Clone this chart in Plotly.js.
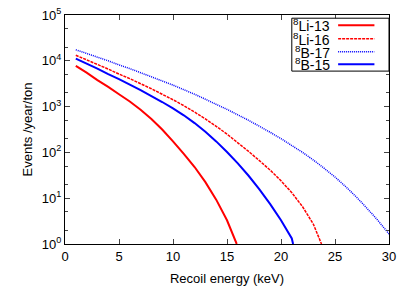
<!DOCTYPE html>
<html><head><meta charset="utf-8">
<script src="https://cdn.plot.ly/plotly-3.0.1.min.js"></script>
<style>body{margin:0;padding:0;background:#fff}#c{width:409px;height:286px}</style>
</head><body><div id="c"></div>
<script>
// Recoil energy (keV)
const li13_x = [1,2,3,4,5,6,7,8,9,10,11,12,13,14,15,15.9];
const li13_y = [7760,5500,3800,2690,1860,1290,851,537,316,174,93,48,22.4,9.3,3.3,1.0];
const li16_x = [1,2,3,4,5,6,7,8,9,10,11,12,13,14,15,16,17,18,19,20,21,22,23,23.75];
const li16_y = [13200,10500,8320,6610,5130,4070,3160,2450,1860,1410,1050,759,537,372,251,162,105,66,41,24,13.2,6.5,2.7,1.0];
const b17_x = [1,2,3,4,5,6,7,8,9,10,11,12,13,14,15,16,17,18,19,20,21,22,23,24,25,26,27,28,29,30];
const b17_y = [17400,14500,12000,10000,8130,6760,5500,4470,3630,2950,2340,1860,1450,1120,871,661,501,372,275,200,141,100,68,45,29,17.8,10.5,5.9,3.2,1.66];
const b15_x = [1,2,3,4,5,6,7,8,9,10,11,12,13,14,15,16,17,18,19,20,21,21.12];
const b15_y = [11200,8710,6760,5130,3980,3020,2290,1700,1260,912,646,437,282,174,102,57.5,30.9,15.5,7.4,3.3,1.32,1.0];
const names = ["<sup>8</sup>Li-13","<sup>8</sup>Li-16","<sup>8</sup>B-17","<sup>8</sup>B-15"];
const colors = ["#ff0000","#ff0000","#0000ff","#0000ff"];
const dashes = ["solid","3px,1px","1px,1px","solid"];
const widths = [2,1.5,1.5,2];
const xs = [li13_x,li16_x,b17_x,b15_x];
const ys = [li13_y,li16_y,b17_y,b15_y];
const xTicks = [0,5,10,15,20,25,30];
const yTicks = [1,10,100,1000,10000,100000];
const yTickText = ["10<sup>0</sup>","10<sup>1</sup>","10<sup>2</sup>","10<sup>3</sup>","10<sup>4</sup>","10<sup>5</sup>"];

const FONT = "Liberation Sans, Arial, sans-serif";
const traces = xs.map((x,i)=>({x:x,y:ys[i],type:'scatter',mode:'lines',name:names[i],
  line:{color:colors[i],width:widths[i],dash:dashes[i],shape:'linear',simplify:false},showlegend:false}));

// custom legend (text left, sample right, like gnuplot)
const rowY = [0.955,0.8965,0.840,0.785];
const shapes = [{type:'rect',xref:'paper',yref:'paper',x0:0.70,x1:1.0,y0:0.755,y1:0.986,line:{color:'#000',width:1},fillcolor:'rgba(255,255,255,1)',layer:'above'}];
const annotations = [];
names.forEach((n,i)=>{
  shapes.push({type:'line',xref:'paper',yref:'paper',x0:0.843,x1:0.955,y0:rowY[i],y1:rowY[i],line:{color:colors[i],width:widths[i],dash:dashes[i]},layer:'above'});
  annotations.push({xref:'paper',yref:'paper',x:0.823,y:rowY[i],xanchor:'right',yanchor:'middle',text:n,showarrow:false,font:{family:FONT,size:14,color:'#000'}});
});

const layout = {
  width:409,height:286,
  margin:{l:65,r:20,t:15,b:42},
  paper_bgcolor:'#fff',plot_bgcolor:'#fff',
  font:{family:FONT,size:13,color:'#000'},
  xaxis:{range:[0,30],tickvals:xTicks,ticktext:xTicks.map(String),ticks:'inside',ticklen:5,mirror:'ticks',
    showline:true,linecolor:'#000',linewidth:1,showgrid:false,zeroline:false,
    title:{text:'Recoil energy (keV)',font:{family:FONT,size:13},standoff:17},tickfont:{family:FONT,size:13}},
  yaxis:{type:'log',range:[0,5],tickvals:yTicks,ticktext:yTickText,ticks:'inside',ticklen:5,mirror:'ticks',
    showline:true,linecolor:'#000',linewidth:1,showgrid:false,zeroline:false,
    minor:{ticks:'inside',ticklen:3,showgrid:false},
    title:{text:'Events /year/ton',font:{family:FONT,size:13},standoff:6},tickfont:{family:FONT,size:13}},
  shapes:shapes,annotations:annotations
};
Plotly.newPlot('c',traces,layout,{displayModeBar:false,staticPlot:true});
</script></body></html>
